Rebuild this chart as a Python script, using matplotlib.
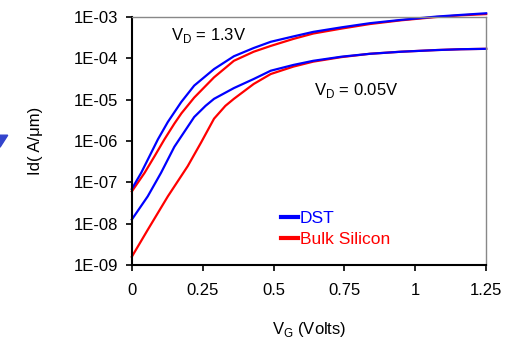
import numpy as np
import matplotlib
matplotlib.use("Agg")
import matplotlib.pyplot as plt
from matplotlib.patches import Polygon

plt.rcParams['font.family'] = ['Liberation Sans', 'DejaVu Sans']
plt.rcParams['mathtext.fontset'] = 'custom'
plt.rcParams['mathtext.rm'] = 'Liberation Sans'

# Id-Vg curves (log10 of Id in A/um)
vg_dst_hi = [0, 0.033, 0.068, 0.092, 0.127, 0.174, 0.22, 0.29, 0.36, 0.43, 0.49, 0.57, 0.64, 0.74, 0.84, 0.95, 1.075, 1.16, 1.25]
log_dst_hi = [-7.16, -6.77, -6.29, -5.96, -5.54, -5.06, -4.66, -4.26, -3.95, -3.75, -3.6, -3.47, -3.36, -3.25, -3.15, -3.07, -2.99, -2.95, -2.91]

vg_bulk_hi = [0, 0.045, 0.08, 0.115, 0.15, 0.175, 0.22, 0.29, 0.36, 0.43, 0.49, 0.57, 0.64, 0.74, 0.84, 0.95, 1.075, 1.16, 1.25]
log_bulk_hi = [-7.22, -6.77, -6.37, -5.96, -5.58, -5.33, -4.95, -4.46, -4.06, -3.84, -3.7, -3.53, -3.4, -3.28, -3.17, -3.08, -3.0, -2.96, -2.93]

vg_dst_lo = [0, 0.056, 0.103, 0.15, 0.22, 0.26, 0.29, 0.36, 0.43, 0.49, 0.57, 0.64, 0.74, 0.84, 0.95, 1.075, 1.16, 1.25]
log_dst_lo = [-7.9, -7.34, -6.77, -6.14, -5.42, -5.15, -4.98, -4.72, -4.5, -4.3, -4.16, -4.06, -3.96, -3.89, -3.84, -3.8, -3.78, -3.77]

vg_bulk_lo = [0, 0.056, 0.127, 0.197, 0.244, 0.29, 0.33, 0.36, 0.43, 0.49, 0.57, 0.64, 0.74, 0.84, 0.95, 1.075, 1.16, 1.25]
log_bulk_lo = [-8.8, -8.15, -7.34, -6.61, -6.04, -5.46, -5.15, -4.98, -4.62, -4.38, -4.2, -4.08, -3.97, -3.89, -3.84, -3.8, -3.78, -3.77]

xticks = [0, 0.25, 0.5, 0.75, 1, 1.25]
xtick_labels = ['0', '0.25', '0.5', '0.75', '1', '1.25']
yticks = [1e-9, 1e-8, 1e-7, 1e-6, 1e-5, 1e-4, 1e-3]
ytick_labels = ['1E-09', '1E-08', '1E-07', '1E-06', '1E-05', '1E-04', '1E-03']

blue = '#0000ff'
red = '#ff0000'

fig = plt.figure(figsize=(5.15, 3.44), dpi=100)
ax = fig.add_axes([0.256, 0.2297, 0.688, 0.7209])

ax.plot(vg_bulk_hi, 10 ** np.array(log_bulk_hi), color=red, lw=1.6, clip_on=False)
ax.plot(vg_bulk_lo, 10 ** np.array(log_bulk_lo), color=red, lw=1.6, clip_on=False)
ax.plot(vg_dst_hi, 10 ** np.array(log_dst_hi), color=blue, lw=1.6, label='DST', clip_on=False)
ax.plot(vg_dst_lo, 10 ** np.array(log_dst_lo), color=blue, lw=1.6, clip_on=False)
ax.plot([], [], color=red, lw=1.6, label='Bulk Silicon')

ax.set_yscale('log')
ax.set_xlim(0, 1.25)
ax.set_ylim(1e-9, 1e-3)
ax.set_xticks(xticks)
ax.set_xticklabels(xtick_labels)
ax.set_yticks(yticks)
ax.set_yticklabels(ytick_labels)
ax.minorticks_off()
ax.tick_params(labelsize=12, length=4, width=1.2)
ax.tick_params(axis='x', pad=9)
ax.tick_params(axis='y', pad=6)

for side in ['left', 'bottom']:
    ax.spines[side].set_linewidth(1.5)
    ax.spines[side].set_color('black')
for side in ['top', 'right']:
    ax.spines[side].set_linewidth(1.0)
    ax.spines[side].set_color('#888888')

ax.set_xlabel(r'V$_\mathregular{G}$ (Volts)', fontsize=12, labelpad=16)
ax.set_ylabel('Id( A/μm)', fontsize=12, labelpad=22)

ax.text(0.27, 10 ** -3.45, r'V$_\mathregular{D}$ = 1.3V', fontsize=12, ha='center', va='center')
ax.text(0.79, 10 ** -4.78, r'V$_\mathregular{D}$ = 0.05V', fontsize=12, ha='center', va='center')

leg = ax.legend(loc='upper left', bbox_to_anchor=(0.4, 0.245), frameon=False,
                handlelength=1.0, handletextpad=0.1, labelspacing=0.3,
                fontsize=12.5, labelcolor='linecolor', borderaxespad=0)
for line in leg.get_lines():
    line.set_linewidth(3)

# small blue arrow head cut off at the left edge
fig.patches.append(Polygon([[0, 0.607], [0.015, 0.607], [0, 0.572]], closed=True,
                           transform=fig.transFigure, color='#3344cc'))

fig.savefig('out.png', dpi=100)
